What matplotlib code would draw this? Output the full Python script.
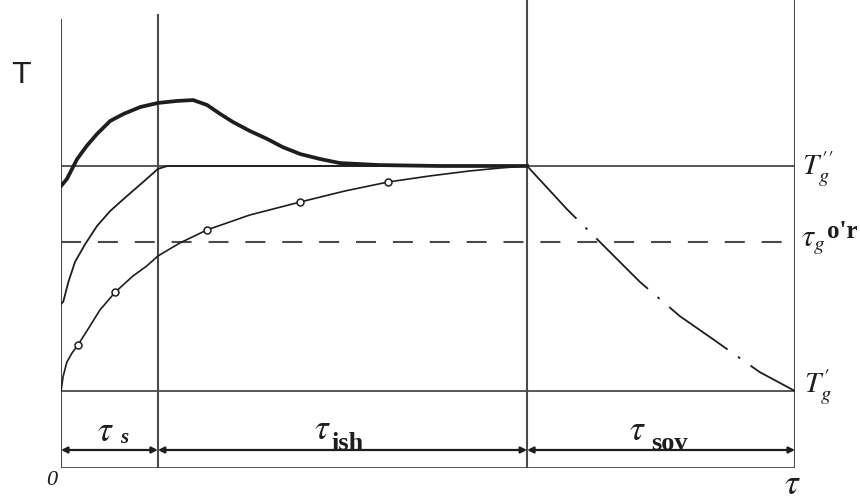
import matplotlib

matplotlib.use("Agg")
import matplotlib.pyplot as plt

plt.rcParams["mathtext.fontset"] = "stix"

# x: time, 0 at the origin and 100 at the right border
# y: temperature, T_g' = 0 and T_g'' = 100
T_LOW, T_MID, T_HIGH = 0.0, 66.2, 100.0
Y_BOTTOM, Y_ARROW, Y_TOP = -34.2, -26.2, 174.2
PHASES = [0.0, 13.2, 63.5, 100.0]  # 0, tau_s, end of tau_ish, end of tau_sov
LINE_TOPS = [165.3, 167.6, Y_TOP, Y_TOP]

# gas temperature: overshoot, then settles on T_g''
top_x = [0, 0.8, 2.2, 3.5, 4.9, 6.7, 8.5, 10.8, 13.2, 15.8, 18.0, 19.9, 21.7, 23.4,
         25.7, 28.1, 30.2, 32.6, 35.3, 38.0, 43.5, 51.6, 63.5]
top_y = [91.1, 94.2, 103.1, 108.9, 114.2, 120.0, 123.1, 126.2, 128.0, 128.9, 129.3, 127.1,
         123.1, 119.6, 115.6, 112.0, 108.4, 105.3, 103.1, 101.3, 100.4, 100.0, 100.0]

# fast curve reaching T_g'' at tau_s
mid_x = [0, 0.3, 1.0, 1.9, 3.3, 4.9, 6.7, 9.0, 11.2, 13.2, 14.5, 63.5]
mid_y = [38.7, 39.6, 48.4, 57.3, 65.3, 73.3, 80.0, 86.7, 92.9, 98.7, 100.0, 100.0]

# slow curve with measured points (open circles)
low_x = [0, 0.14, 0.27, 0.8, 1.5, 2.3, 3.7, 5.3, 7.4, 9.8, 11.7, 13.2, 16.2, 19.9,
         25.7, 32.6, 38.7, 44.6, 50.3, 55.7, 59.8, 63.5]
low_y = [0, 3.1, 6.2, 12.9, 16.9, 20.4, 27.6, 36.0, 44.0, 51.1, 55.6, 60.0, 65.8, 71.6,
         78.2, 84.0, 88.9, 92.9, 95.6, 97.8, 99.1, 100.0]
low_marks = [5, 8, 13, 15, 17]

# cooling during tau_sov
cool_x = [63.5, 68.9, 73.0, 78.9, 84.3, 88.8, 95.2, 100.0]
cool_y = [100.0, 80.9, 67.6, 48.4, 33.3, 23.1, 8.4, 0.0]

INK = "#1e1e1e"
GUIDE = "#4a4a4a"
serif = "Liberation Serif"

fig = plt.figure(figsize=(8.6, 5.02), dpi=100)
ax = fig.add_axes([61 / 860, 33 / 502, 734 / 860, 469 / 502])
ax.set_xlim(0, 100)
ax.set_ylim(Y_BOTTOM, Y_TOP)
ax.axis("off")

# frame lines
for x, top in zip(PHASES, LINE_TOPS):
    ax.plot([x, x], [Y_BOTTOM, top], color=GUIDE, lw=1.5, solid_capstyle="butt")
for y in (T_HIGH, T_LOW, Y_BOTTOM):
    ax.plot([0, 100], [y, y], color=GUIDE, lw=1.3)
ax.plot([0, 100], [T_MID, T_MID], color=GUIDE, lw=1.5, linestyle=(0, (9.6, 8.1)))

# curves
ax.plot(top_x, top_y, color=INK, lw=2.7, solid_joinstyle="round")
ax.plot(mid_x, mid_y, color=INK, lw=1.3)
ax.plot(low_x, low_y, color=INK, lw=1.2, marker="o", markevery=low_marks,
        markersize=5, markerfacecolor="white", markeredgecolor=INK, markeredgewidth=1.1)
ax.plot(cool_x, cool_y, color=INK, lw=1.3, linestyle=(0, (40, 7, 1.5, 7)))

# phase arrows
for x0, x1 in zip(PHASES[:-1], PHASES[1:]):
    ax.annotate("", xy=(x1, Y_ARROW), xytext=(x0, Y_ARROW),
                arrowprops=dict(arrowstyle="<|-|>", color=INK, lw=1.6,
                                mutation_scale=9, shrinkA=0, shrinkB=0))

# axis labels
ax.text(-5.4, 141.0, "T", fontsize=21, ha="center", va="center", color=INK, clip_on=False)
ax.text(-1.3, -39.5, "0", fontsize=16, family=serif, style="italic",
        ha="center", va="center", color=INK, clip_on=False)
ax.text(99.7, -41.0, r"$\tau$", fontsize=25, ha="center", va="center", color=INK, clip_on=False)

# phase labels
ax.text(6.1, -17.2, r"$\tau$", fontsize=25, ha="center", va="center", color=INK)
ax.text(8.6, -20.5, "s", fontsize=15, family=serif, style="italic", weight="bold",
        ha="center", va="center", color=INK)
ax.text(35.6, -16.5, r"$\tau$", fontsize=25, ha="center", va="center", color=INK)
ax.text(36.8, -25.6, "ish", fontsize=19, family=serif, weight="bold",
        ha="left", va="baseline", color=INK)
ax.text(78.5, -16.8, r"$\tau$", fontsize=25, ha="center", va="center", color=INK)
ax.text(80.4, -25.6, "sov", fontsize=19, family=serif, weight="bold",
        ha="left", va="baseline", color=INK)

# right-hand temperature labels
ax.text(101.0, 99.0, r"$T_g^{\prime\prime}$", fontsize=21, ha="left", va="center",
        color=INK, clip_on=False)
ax.text(100.8, 67.0, r"$\tau_g$", fontsize=22, ha="left", va="center",
        color=INK, clip_on=False)
ax.text(104.4, 71.3, "o'r", fontsize=18, family=serif, weight="bold",
        ha="left", va="center", color=INK, clip_on=False)
ax.text(101.2, 2.0, r"$T_g^{\prime}$", fontsize=21, ha="left", va="center",
        color=INK, clip_on=False)

fig.savefig("out.png", dpi=100)
